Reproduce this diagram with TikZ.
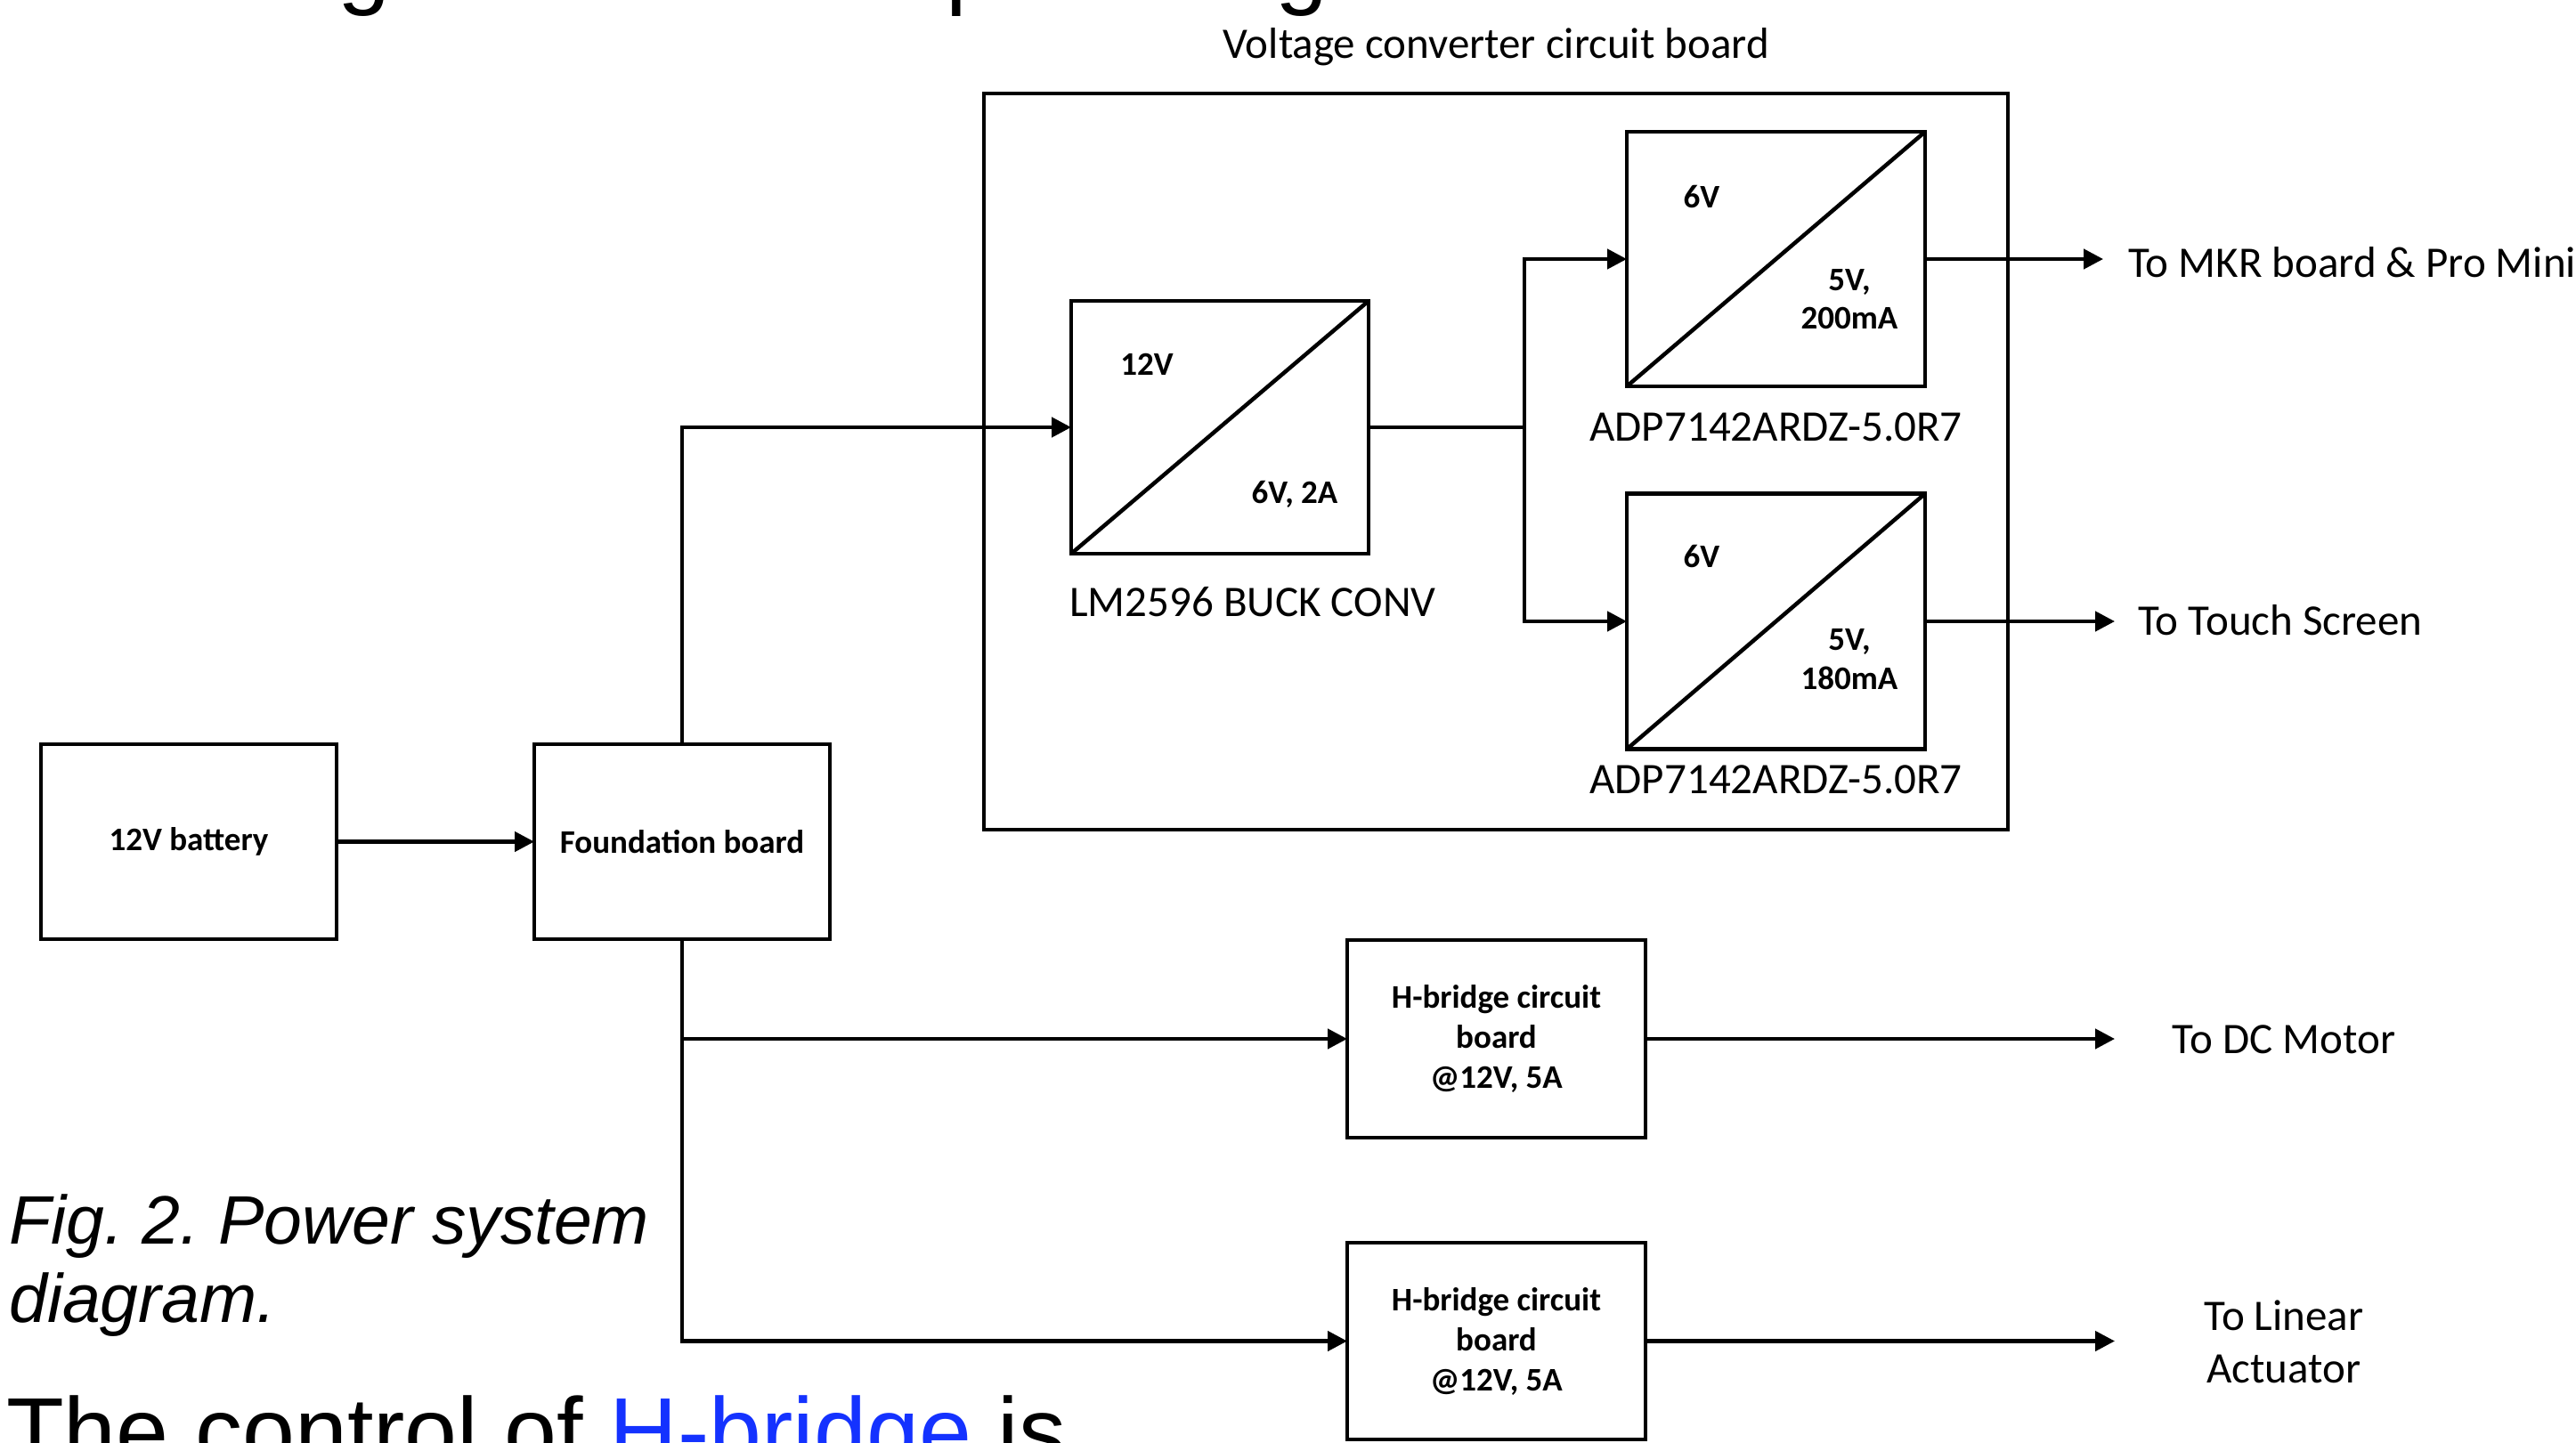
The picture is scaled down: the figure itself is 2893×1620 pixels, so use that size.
\documentclass[tikz,border=0pt]{standalone}
\usepackage{fontspec}
\setmainfont{Carlito}
\newfontfamily\arialfont{Liberation Sans}
\usetikzlibrary{arrows.meta}
\definecolor{linkblue}{RGB}{20,50,255}
\newcommand{\fsLabel}{\fontsize{49}{59}\selectfont}
\newcommand{\fsBold}{\bfseries\fontsize{37}{45}\selectfont}
\frenchspacing
\begin{document}
\begin{tikzpicture}[x=1pt,y=-1pt,
  box/.style={draw, line width=4.8pt, outer sep=0pt, inner sep=0pt},
  conn/.style={line width=4.5pt},
  arr/.style={line width=4.5pt, -{Triangle[length=22pt,width=22pt]}},
  lbl/.style={inner sep=0pt, font=\fsLabel},
  blbl/.style={inner sep=0pt, font=\fsBold},
  bigtext/.style={inner sep=0pt, font=\arialfont\fontsize{106}{120}\selectfont},
  captext/.style={inner sep=0pt, font=\arialfont\itshape\fontsize{77}{88}\selectfont}]
\clip (0,0) rectangle (2893,1620);
\fill[white] (0,0) rectangle (2893,1620);

% clipped page text
\node[bigtext, anchor=base west] (tg1) at (379,-4) {g};
\node[bigtext, anchor=base west] (tp) at (1062,-4) {p};
\node[bigtext, anchor=base west] (tg2) at (1432,-4) {g};
\node[bigtext, anchor=base west] (bottomtext) at (7,1644) {The control of \textcolor{linkblue}{H-bridge} is};
\node[captext, anchor=base west] (cap1) at (10,1397) {Fig. 2. Power system};
\node[captext, anchor=base west] (cap2) at (10,1485) {diagram.};

% boxes
\node[box, minimum width=332pt, minimum height=219pt, font=\fsBold] (bat) at (212,945.5) {12V battery};
\node[box, minimum width=332pt, minimum height=219pt, font=\fsBold] (fb) at (766,945.5) {Foundation board};
\node[box, minimum width=1150pt, minimum height=827pt] (vcb) at (1680,518.5) {};
\node[lbl, anchor=base] (vcbl) at (1680,65) {Voltage converter circuit board};

\node[box, minimum width=334pt, minimum height=284pt] (lm) at (1370,480) {};
\draw[line width=4.5pt] (lm.south west) -- (lm.north east);
\node[blbl] (lmin) at (1288,409) {12V};
\node[blbl, anchor=base] (lmout) at (1454,565) {6V, 2A};
\node[lbl, anchor=base west] (lml) at (1201,692) {LM2596 BUCK CONV};

\node[box, minimum width=335pt, minimum height=286pt] (adp1) at (1994.5,291) {};
\draw[line width=4.5pt] (adp1.south west) -- (adp1.north east);
\node[blbl, anchor=base] (a1in) at (1911,233) {6V};
\node[blbl, anchor=base] (a1o1) at (2077,326) {5V,};
\node[blbl, anchor=base] (a1o2) at (2077,369) {200mA};
\node[lbl, anchor=base] (a1l) at (1994.5,495) {ADP7142ARDZ-5.0R7};

\node[box, minimum width=335pt, minimum height=287pt] (adp2) at (1994.5,698) {};
\draw[line width=4.5pt] (adp2.south west) -- (adp2.north east);
\node[blbl, anchor=base] (a2in) at (1911,637) {6V};
\node[blbl, anchor=base] (a2o1) at (2077,730) {5V,};
\node[blbl, anchor=base] (a2o2) at (2077,774) {180mA};
\node[lbl, anchor=base] (a2l) at (1994.5,891) {ADP7142ARDZ-5.0R7};

\node[box, minimum width=335pt, minimum height=222pt, font=\fsBold, align=center] (hb1) at (1680.5,1167) {H-bridge circuit\\board\\@12V, 5A};
\node[box, minimum width=335pt, minimum height=221pt, font=\fsBold, align=center] (hb2) at (1680.5,1506.5) {H-bridge circuit\\board\\@12V, 5A};

% output labels
\node[lbl, anchor=base west] (tomkr) at (2390,311) {To MKR board \& Pro Mini};
\node[lbl, anchor=base west] (totouch) at (2401,713) {To Touch Screen};
\node[lbl, anchor=base] (todc) at (2565,1183) {To DC Motor};
\node[lbl, align=center] (tolin) at (2565,1507) {To Linear\\Actuator};

% connectors
\coordinate (jn) at (1712,480);
\coordinate (o1) at (2362,291);
\coordinate (o2) at (2375,700);
\draw[arr] (bat) -- (fb);
\draw[arr] (fb.north) |- (lm.west);
\draw[conn] (lm.east) -- (jn);
\draw[arr] (jn) |- (adp1.west);
\draw[arr] (jn) |- (adp2.west);
\draw[arr] (adp1.east) -- (adp1.east -| o1);
\draw[arr] (adp2.east) -- (adp2.east -| o2);
\draw[arr] (fb.south) |- (hb1.west);
\draw[arr] (fb.south) |- (hb2.west);
\draw[arr] (hb1.east) -- (hb1.east -| o2);
\draw[arr] (hb2.east) -- (hb2.east -| o2);
\end{tikzpicture}
\end{document}
